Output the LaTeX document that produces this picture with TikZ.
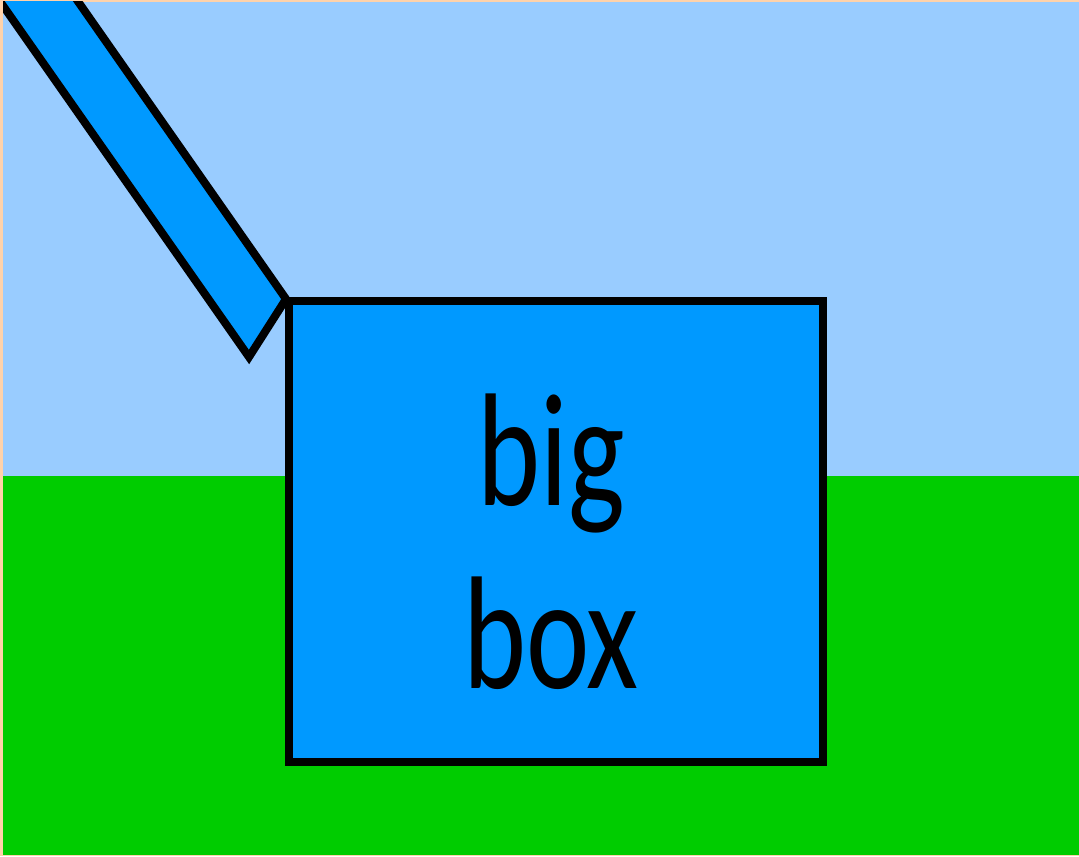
\documentclass[tikz,border=0pt]{standalone}
\usepackage{fontspec}
\setmainfont{Carlito}
\definecolor{peach}{HTML}{FFD2AA}
\definecolor{sky}{HTML}{99CCFF}
\definecolor{grass}{HTML}{00CC00}
\definecolor{boxblue}{HTML}{0099FF}
\begin{document}
\begin{tikzpicture}[x=0.5pt,y=-0.5pt,
  outline/.style={draw=black,line width=4pt},
  bluefill/.style={fill=boxblue},
  lbl/.style={anchor=base,inner sep=0pt,font=\fontsize{60}{70}\selectfont}]
\useasboundingbox (0,0) rectangle (1079,856);
\fill[peach] (0,0) rectangle (1079,856);
\fill[sky] (3,2) rectangle (1079,476);
\fill[grass] (3,476) rectangle (1079,855);
\begin{scope}
  \clip (3,2) rectangle (1079,855);
  \draw[outline,bluefill] (-15,-20) -- (249,357) -- (286,299) -- (63,-20) -- cycle;
\end{scope}
\node[outline,bluefill,minimum width=267pt,minimum height=230.5pt,inner sep=0pt] (bigbox) at (556,531.5) {};
\node[lbl] (big) at (551.5,505) {\scalebox{1}[1.34]{big}};
\node[lbl] (boxword) at (551,688) {\scalebox{1}[1.34]{box}};
\end{tikzpicture}
\end{document}
